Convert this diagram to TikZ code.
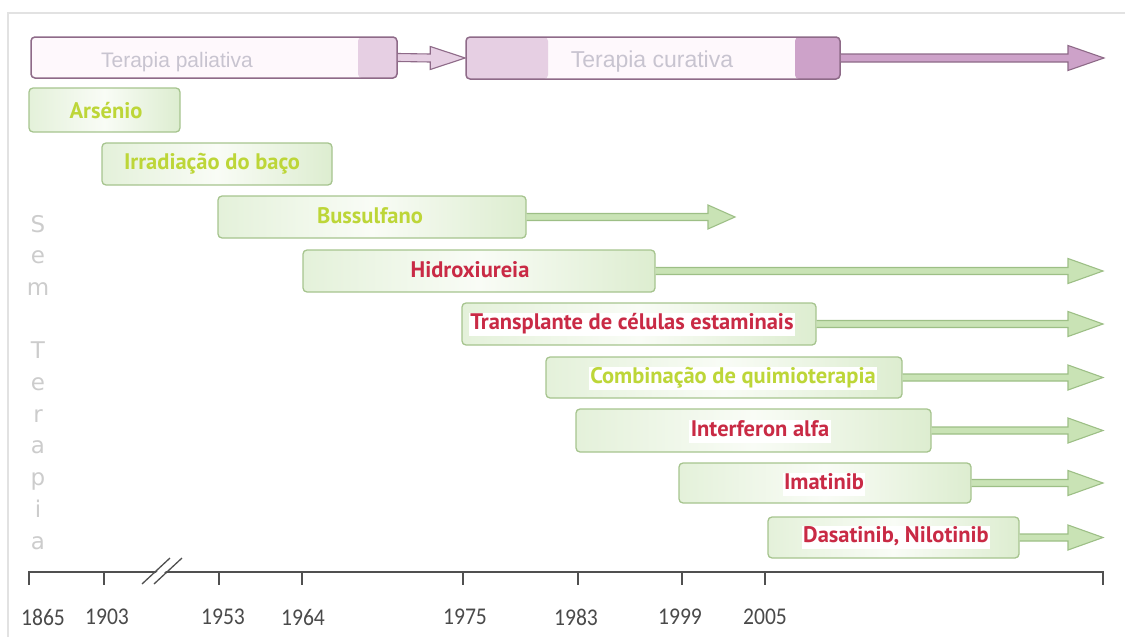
\documentclass[tikz,border=0pt]{standalone}
\usepackage{fontspec}
\setmainfont{PT Sans}
\newfontfamily\lblfont{PT Sans}
\newfontfamily\yearfont[FakeStretch=0.9]{Carlito}
\newfontfamily\tfont{Liberation Sans}
\newfontfamily\vfont{DejaVu Sans}
\usetikzlibrary{calc}
\definecolor{gborder}{HTML}{A6C48E}
\definecolor{gL}{HTML}{E4F1DA}
\definecolor{gM}{HTML}{F9FCF6}
\definecolor{gR}{HTML}{DDEDD0}
\definecolor{garrow}{HTML}{C9E3B5}
\definecolor{garrowedge}{HTML}{9DBF86}
\definecolor{ytext}{HTML}{BDD638}
\definecolor{rtext}{HTML}{C92A45}
\definecolor{pborder}{HTML}{8E6A88}
\definecolor{pbg}{HTML}{FEF8FC}
\definecolor{plight}{HTML}{E6CFE3}
\definecolor{pdark}{HTML}{CDA2C9}
\definecolor{ptext}{HTML}{C8C4D0}
\definecolor{vgray}{HTML}{CCCCCC}
\definecolor{framecol}{HTML}{E2E2E2}
\definecolor{axiscol}{HTML}{505050}
\definecolor{ygray}{HTML}{4A4A4A}
\newcommand{\harrow}[6]{%
  \draw[#6] ($(#1)+(0,-#5)$) -- ($(#2)+(-#3,-#5)$) -- ($(#2)+(-#3,-#4)$) -- (#2)
    -- ($(#2)+(-#3,#4)$) -- ($(#2)+(-#3,#5)$) -- ($(#1)+(0,#5)$);}
\tikzset{
  gbox/.style={draw=gborder, line width=1.3pt, rounded corners=4pt,
    left color=gL, right color=gR, middle color=gM, inner sep=0pt},
  pbox/.style={draw=pborder, line width=1.5pt, rounded corners=4pt, fill=pbg, inner sep=0pt},
  lbl/.style={font=\lblfont\bfseries\fontsize{22.5}{22.5}\selectfont, inner sep=1.5pt,
    text height=15pt, text depth=5pt},
  ylbl/.style={lbl, text=ytext},
  rlbl/.style={lbl, text=rtext},
  wbg/.style={fill=white},
  garr/.style={draw=garrowedge, fill=garrow, line width=1.1pt, line join=miter},
  parr/.style={draw=pborder, line width=1.1pt, line join=miter},
  year/.style={font=\yearfont\fontsize{24}{24}\selectfont, text=ygray, inner sep=0pt},
  vlet/.style={font=\vfont\fontsize{23}{23}\selectfont, text=vgray, inner sep=0pt},
  tlbl/.style={font=\tfont\fontsize{21}{21}\selectfont, text=ptext, inner sep=0pt},
  axisline/.style={draw=axiscol, line width=2.4pt},
  tick/.style={draw=axiscol, line width=2pt}
}
\begin{document}
\begin{tikzpicture}[x=1pt, y=-1pt]
\useasboundingbox (0,0) rectangle (1125,637);
% frame
\draw[framecol, line width=1.2pt] (8,637) -- (8,13) -- (1125,13);

% therapy phase boxes
\node[pbox, minimum width=366, minimum height=41,
  path picture={\fill[plight] ($(path picture bounding box.south east)+(-39,0)$) rectangle (path picture bounding box.north east);}]
  (pal) at (214,57.5) {};
\node[tlbl, anchor=base] (pal-l) at (177,67) {Terapia paliativa};
\node[pbox, minimum width=374, minimum height=42,
  path picture={\fill[plight] (path picture bounding box.south west) rectangle ($(path picture bounding box.north west)+(82,0)$);
                \fill[pdark] ($(path picture bounding box.south east)+(-45,0)$) rectangle (path picture bounding box.north east);}]
  (cur) at (653,58) {};
\node[tlbl, anchor=base, font=\tfont\fontsize{23}{23}\selectfont] (cur-l) at (652,67) {Terapia curativa};
\coordinate (cur-tip) at (1104,58);
\harrow{pal.east}{cur.west}{35}{11.5}{4}{parr, fill=plight}
\harrow{cur.east}{cur-tip}{36}{12.5}{4}{parr, fill=pdark}

% treatment boxes
\node[gbox, minimum width=151, minimum height=44] (ars) at (104.5,110) {};
\node[ylbl] (ars-l) at (106,113) {Arsénio};
\node[gbox, minimum width=230, minimum height=42] (irr) at (217,164) {};
\node[ylbl] (irr-l) at (212,164) {Irradiação do baço};
\node[gbox, minimum width=308, minimum height=42] (bus) at (372,217) {};
\node[ylbl] (bus-l) at (370,218) {Bussulfano};
\node[gbox, minimum width=352, minimum height=42] (hid) at (479,271) {};
\node[rlbl] (hid-l) at (470,272) {Hidroxiureia};
\node[gbox, minimum width=354, minimum height=42] (tra) at (639,324) {};
\node[rlbl, wbg] (tra-l) at (632,324) {Transplante de células estaminais};
\node[gbox, minimum width=356, minimum height=41] (com) at (724,377.5) {};
\node[ylbl, wbg] (com-l) at (733,378) {Combinação de quimioterapia};
\node[gbox, minimum width=355, minimum height=43] (int) at (753.5,430.5) {};
\node[rlbl, wbg] (int-l) at (760,431) {Interferon alfa};
\node[gbox, minimum width=292, minimum height=40] (ima) at (825,483) {};
\node[rlbl, wbg] (ima-l) at (824,484) {Imatinib};
\node[gbox, minimum width=251, minimum height=41] (das) at (893.5,537.5) {};
\node[rlbl, wbg] (das-l) at (896,537) {Dasatinib, Nilotinib};

% arrows
\coordinate (bus-tip) at (735,217);
\coordinate (hid-tip) at (1103,271);
\coordinate (tra-tip) at (1103,324);
\coordinate (com-tip) at (1103,377.5);
\coordinate (int-tip) at (1103,430.5);
\coordinate (ima-tip) at (1103,483);
\coordinate (das-tip) at (1103,537.5);
\harrow{bus.east}{bus-tip}{27}{12}{3.5}{garr}
\harrow{hid.east}{hid-tip}{35}{12.5}{3.5}{garr}
\harrow{tra.east}{tra-tip}{35}{12.5}{3.5}{garr}
\harrow{com.east}{com-tip}{35}{12.5}{3.5}{garr}
\harrow{int.east}{int-tip}{35}{12.5}{3.5}{garr}
\harrow{ima.east}{ima-tip}{35}{12.5}{3.5}{garr}
\harrow{das.east}{das-tip}{35}{12.5}{3.5}{garr}

% vertical "Sem Terapia"
\foreach \ch/\yy [count=\i] in {S/232, e/263.7, m/295.4, T/358.8, e/390.5, r/422.2, a/453.9, p/485.6, i/517.3, a/549}
  \node[vlet, anchor=base] (v\i) at (38,\yy) {\ch};

% axis
\coordinate (ax0) at (29,572);
\coordinate (ax1) at (1103,572);
\draw[axisline] (ax0) -- (ax1);
\foreach \xx in {29,104,219,302,463,578,682,765,1103}
  \draw[tick] (\xx,571) -- (\xx,585);
\fill[white] (144,584) -- (172,558) -- (180,558) -- (152,584) -- cycle;
\draw[axiscol, line width=1.3pt] (142,584) -- (170,558) (154,584) -- (182,558);
\foreach \lab/\xx in {1865/43, 1903/107, 1953/223, 1964/303, 1975/465, 1983/576, 1999/680, 2005/765}
  \node[year] (y\lab) at (\xx,617) {\lab};
\end{tikzpicture}
\end{document}
